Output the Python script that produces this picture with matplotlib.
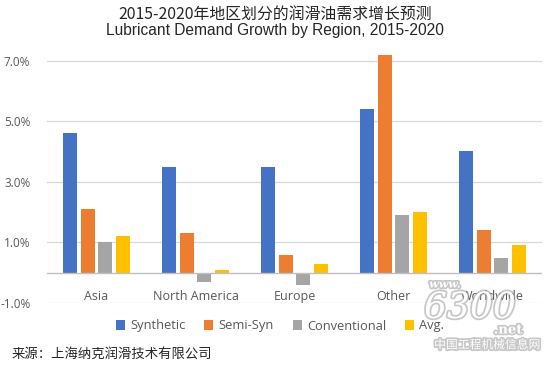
import matplotlib
matplotlib.use("Agg")
import matplotlib.pyplot as plt
import matplotlib.patheffects as pe
import numpy as np

categories = ["Asia", "North America", "Europe", "Other", "Worldwide"]
series_names = ["Synthetic", "Semi-Syn", "Conventional", "Avg."]
synthetic = [4.6, 3.5, 3.5, 5.4, 4.0]
semi_syn = [2.1, 1.3, 0.6, 7.2, 1.4]
conventional = [1.0, -0.3, -0.4, 1.9, 0.5]
avg = [1.2, 0.1, 0.3, 2.0, 0.9]
yticks = [-1.0, 1.0, 3.0, 5.0, 7.0]
ytick_labels = ["-1.0%", "1.0%", "3.0%", "5.0%", "7.0%"]
colors = ["#4472C4", "#ED7D31", "#A5A5A5", "#FFC000"]

plt.rcParams['font.family'] = ['Noto Sans CJK SC', 'DejaVu Sans']

fig = plt.figure(figsize=(5.5, 3.73), dpi=100)
W, H = 550, 373
px_per = 30.3
top_px = 303 - 8.3 * px_per
ax = fig.add_axes([47 / W, 1 - 303 / H, (542 - 47) / W, (303 - top_px) / H])

x = np.arange(len(categories))
bw = 0.142
pitch = 0.178
all_series = [synthetic, semi_syn, conventional, avg]
for i, (vals, c, name) in enumerate(zip(all_series, colors, series_names)):
    ax.bar(x + (i - 1.5) * pitch, vals, width=bw, color=c, label=name, zorder=3)

ax.set_xlim(-0.5, len(categories) - 0.5)
ax.set_ylim(-1.0, 7.3)
ax.set_yticks(yticks)
ax.set_yticklabels(ytick_labels, family=['Open Sans', 'DejaVu Sans'], fontsize=8.5, color="#595959")
ax.tick_params(axis='y', length=0, pad=12)
ax.set_xticks([])
for s in ax.spines.values():
    s.set_visible(False)
ax.yaxis.grid(True, color="#D9D9D9", linewidth=0.9, zorder=0)
ax.axhline(0, color="#BFBFBF", linewidth=1.0, zorder=4)

for xi, name in zip(x, categories):
    ax.text(xi, -0.77, name, ha='center', va='center', fontsize=9,
            color="#595959", family=['Open Sans', 'DejaVu Sans'])

fig.text(0.5, 1 - 14 / H, "2015-2020年地区划分的润滑油需求增长预测", ha='center', va='center',
         fontsize=11.4, color="#262626")
fig.text(0.5, 1 - 31 / H, "Lubricant Demand Growth by Region, 2015-2020", ha='center', va='center',
         fontsize=11.2, color="#262626", family=['Liberation Sans', 'DejaVu Sans'])

leg = fig.legend(loc='center', bbox_to_anchor=(0.509, 1 - 326 / H), ncol=4, frameon=False,
                 handlelength=0.7, handleheight=0.7, handletextpad=0.4,
                 columnspacing=1.45, prop={'family': ['Open Sans', 'DejaVu Sans'], 'size': 9.3})
for t in leg.get_texts():
    t.set_color("#595959")

fig.text(12 / W, 1 - 354 / H, "来源：上海纳克润滑技术有限公司", ha='left', va='center',
         fontsize=9.6, color="#262626")

# watermark
shadow = [pe.withStroke(linewidth=2.5, foreground="#9A9A9A", alpha=0.55)]
fig.text(445 / W, 1 - 284 / H, "www.", fontsize=8, color="white", style='italic',
         fontweight='bold', family=['DejaVu Serif'], ha='center', va='center', path_effects=shadow)
fig.text(470 / W, 1 - 308 / H, "6300", fontsize=26, color="white", style='italic',
         family=['DejaVu Serif'], ha='center', va='center', path_effects=shadow)
fig.text(508 / W, 1 - 330 / H, ".net", fontsize=9.5, color="white", fontweight='bold',
         family=['DejaVu Serif'], ha='center', va='center', path_effects=shadow)
fig.text(487 / W, 1 - 345 / H, "中国工程机械信息网", fontsize=8.5, color="white",
         ha='center', va='center', path_effects=shadow)

fig.savefig("out.png", dpi=100, facecolor="white")
